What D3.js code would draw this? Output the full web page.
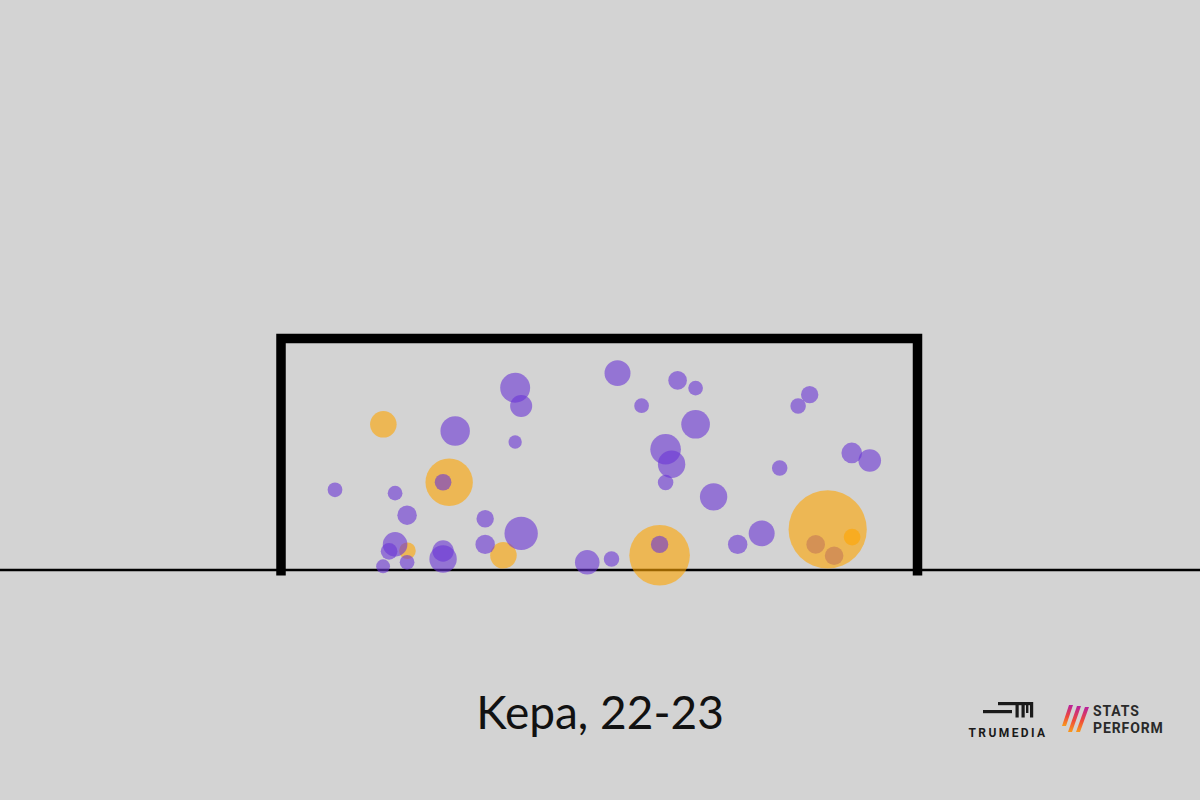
<!DOCTYPE html>
<html>
<head>
<meta charset="utf-8">
<script src="https://cdn.jsdelivr.net/npm/d3@7"></script>
<style>
  html, body { margin: 0; padding: 0; background: #d3d3d3; }
  svg { display: block; }
</style>
</head>
<body>
<svg id="chart" width="1200" height="800"></svg>
<script>
// Goal-mouth coordinates in metres (x across the goal from left post, y height above ground)
const shotX = [1.177, 1.934, 4.354, 2.558, 1.454, 6.149, 6.361, 6.287, 6.568,
  2.693, 2.762, 2.003, 2.693, 1.864, 0.621, 1.312, 1.450, 2.348, 2.762, 2.348, 1.312, 1.243, 1.450, 1.174,
  1.864, 1.864, 3.522, 3.870, 4.561, 4.768, 4.147, 4.768, 4.423, 4.492, 4.423, 4.975, 6.080, 5.947,
  6.564, 6.771, 5.735, 5.528, 5.252, 3.801, 4.354];
const shotY = [1.536, 0.925, 0.155, 0.155, 0.203, 0.270, 0.150, 0.428, 0.347,
  1.921, 1.728, 1.465, 1.349, 0.925, 0.845, 0.810, 0.578, 0.540, 0.386, 0.270, 0.270, 0.197, 0.081, 0.039,
  0.200, 0.116, 0.081, 2.075, 1.998, 1.917, 1.732, 1.536, 1.273, 1.115, 0.922, 0.771, 1.848, 1.728,
  1.234, 1.154, 1.076, 0.386, 0.270, 0.116, 0.270];
const shotXG = [0.091, 0.290, 0.474, 0.091, 0.036, 0.045, 0.045, 0.790, 0.036,
  0.116, 0.063, 0.112, 0.023, 0.036, 0.028, 0.028, 0.049, 0.039, 0.144, 0.049, 0.078, 0.036, 0.028, 0.025,
  0.059, 0.097, 0.078, 0.087, 0.045, 0.028, 0.028, 0.106, 0.121, 0.097, 0.031, 0.097, 0.039, 0.031,
  0.055, 0.066, 0.031, 0.087, 0.049, 0.031, 0.039];
const shotOutcome = ["Goal", "Goal", "Goal", "Goal", "Goal", "Saved", "Saved", "Goal", "Goal",
  "Saved", "Saved", "Saved", "Saved", "Saved", "Saved", "Saved", "Saved", "Saved", "Saved", "Saved", "Saved", "Saved", "Saved", "Saved",
  "Saved", "Saved", "Saved", "Saved", "Saved", "Saved", "Saved", "Saved", "Saved", "Saved", "Saved", "Saved", "Saved", "Saved",
  "Saved", "Saved", "Saved", "Saved", "Saved", "Saved", "Saved"];
const outcomes = ["Saved", "Goal"];
const titleText = "Kepa, 22-23";
const goalWidth = 7.32, goalHeight = 2.44;

const shots = shotX.map((x, i) => ({x, y: shotY[i], xg: shotXG[i], outcome: shotOutcome[i]}));

const svg = d3.select("#chart");
svg.append("rect").attr("width", 1200).attr("height", 800).attr("fill", "#d3d3d3");

const x = d3.scaleLinear().domain([0, goalWidth]).range([281, 917.5]);
const y = d3.scaleLinear().domain([0, goalHeight]).range([570, 338.5]);
const r = d3.scaleSqrt().domain([0, 1]).range([0, 44]);
const color = d3.scaleOrdinal().domain(outcomes).range(["#6a36d6", "#ffa500"]);

// ground line
svg.append("line")
  .attr("x1", 0).attr("x2", 1200)
  .attr("y1", y(0)).attr("y2", y(0))
  .attr("stroke", "#000").attr("stroke-width", 2.5);

// goal frame
svg.append("path")
  .attr("d", d3.line()([[x(0), y(0) + 5.5], [x(0), y(goalHeight)], [x(goalWidth), y(goalHeight)], [x(goalWidth), y(0) + 5.5]]))
  .attr("fill", "none").attr("stroke", "#000").attr("stroke-width", 9.5)
  .attr("stroke-linejoin", "miter").attr("stroke-linecap", "butt");

// shots
svg.append("g").selectAll("circle").data(shots).join("circle")
  .attr("cx", d => x(d.x))
  .attr("cy", d => y(d.y))
  .attr("r", d => r(d.xg))
  .attr("fill", d => color(d.outcome))
  .attr("fill-opacity", 0.6);

// title
svg.append("text")
  .attr("x", 600).attr("y", 729)
  .attr("text-anchor", "middle")
  .attr("font-family", "Lato, sans-serif")
  .attr("font-size", 46)
  .attr("fill", "#111")
  .text(titleText);

// TruMedia logo
const tm = svg.append("g").attr("fill", "#1a1a1a");
tm.append("rect").attr("x", 998).attr("y", 702).attr("width", 14).attr("height", 3.2);
tm.append("rect").attr("x", 983).attr("y", 710).attr("width", 29).attr("height", 3.2);
tm.append("rect").attr("x", 1012).attr("y", 702).attr("width", 21).attr("height", 3.2);
tm.append("rect").attr("x", 1015.5).attr("y", 702).attr("width", 3.2).attr("height", 15.5);
tm.append("rect").attr("x", 1021.5).attr("y", 702).attr("width", 3.2).attr("height", 15.5);
tm.append("rect").attr("x", 1030).attr("y", 702).attr("width", 3.2).attr("height", 15.5);
tm.append("rect").attr("x", 1026).attr("y", 704).attr("width", 2.4).attr("height", 9);
svg.append("text")
  .attr("x", 1008).attr("y", 736.5)
  .attr("text-anchor", "middle")
  .attr("font-family", "Roboto, sans-serif")
  .attr("font-weight", 700)
  .attr("font-size", 12)
  .attr("letter-spacing", 2.4)
  .attr("fill", "#1a1a1a")
  .text("TRUMEDIA");

// Stats Perform logo
const defs = svg.append("defs");
const grad = defs.append("linearGradient").attr("id", "spg").attr("x1", 0).attr("y1", 0).attr("x2", 0).attr("y2", 1);
grad.append("stop").attr("offset", "0%").attr("stop-color", "#b8209e");
grad.append("stop").attr("offset", "55%").attr("stop-color", "#ef4a3a");
grad.append("stop").attr("offset", "100%").attr("stop-color", "#f99a1c");
const bars = [[1062, 726, 1069, 705], [1068, 732, 1077, 706], [1076, 732, 1085, 707]];
bars.forEach(b => {
  const [x0, y0, x1, y1] = b;
  svg.append("path")
    .attr("d", `M${x0},${y0} L${x1},${y1} L${x1 + 4},${y1} L${x0 + 4},${y0} Z`)
    .attr("fill", "url(#spg)");
});
const sp = svg.append("text")
  .attr("font-family", "Roboto, sans-serif").attr("font-weight", 700)
  .attr("font-size", 14).attr("fill", "#2a2a2a");
sp.append("tspan").attr("x", 1093).attr("y", 716).attr("letter-spacing", 0.9).text("STATS");
sp.append("tspan").attr("x", 1093).attr("y", 732.5).attr("letter-spacing", 0.9).text("PERFORM");
</script>
</body>
</html>
